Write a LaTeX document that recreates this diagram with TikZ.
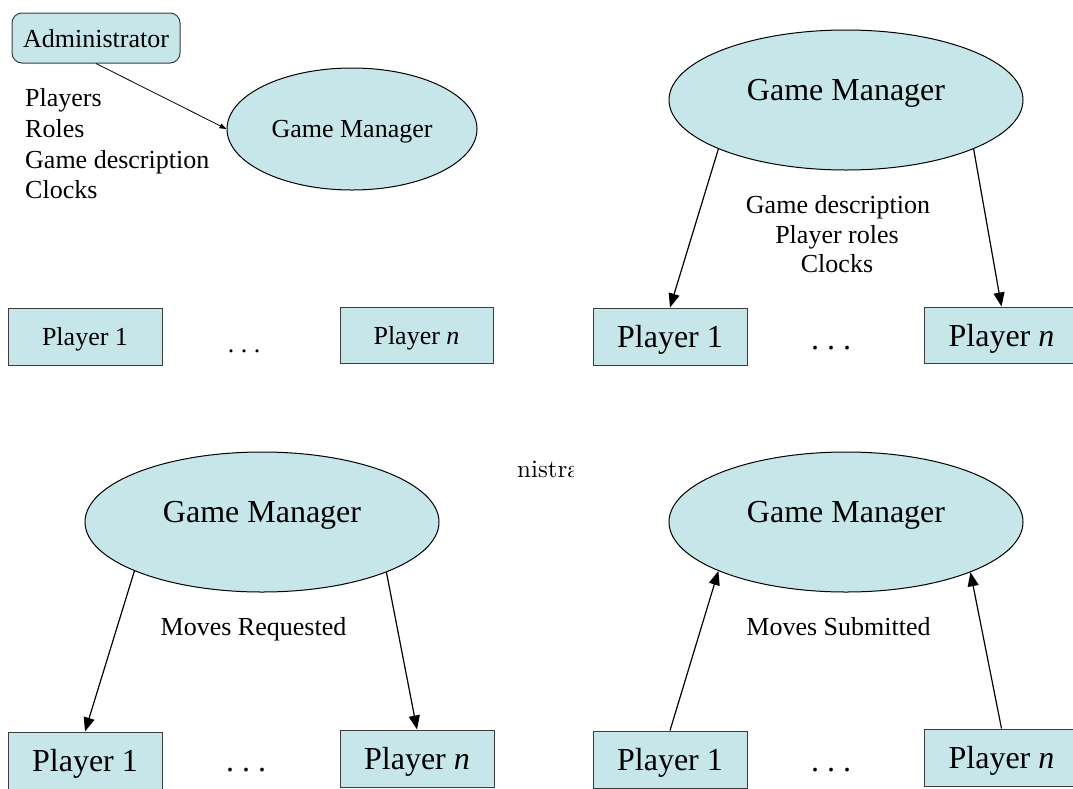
\documentclass[tikz,border=0pt]{standalone}
\usepackage{fontspec}
\setmainfont{Liberation Serif}
\newfontfamily\lmfont{lmroman10-regular}[Extension=.otf]
\usetikzlibrary{shapes.geometric,arrows.meta}
\definecolor{gmfill}{RGB}{198,230,234}
\definecolor{boxline}{RGB}{60,60,60}
\tikzset{
  gm/.style={ellipse,draw=black,fill=gmfill,line width=1pt,inner sep=0pt},
  gmbig/.style={gm,big,minimum width=354pt,minimum height=140pt,text height=22pt,text depth=22pt},
  pbox/.style={rectangle,draw=boxline,fill=gmfill,line width=1pt,inner sep=0pt,text depth=0pt,minimum width=154pt,minimum height=57pt},
  small/.style={font=\fontsize{26}{31}\selectfont},
  big/.style={font=\fontsize{32}{38}\selectfont},
  arr/.style={line width=1.2pt,-{Triangle[length=14pt,width=11pt]}},
  thinarr/.style={line width=0.8pt,-{Triangle[length=7pt,width=5pt]}},
}
\begin{document}
\begin{tikzpicture}[x=1pt,y=-1pt]
\useasboundingbox (0,0) rectangle (1073,788);
\clip (0,0) rectangle (1073,788);

% ---- panel 1 (top left)
\node[pbox,small,rounded corners=10pt,minimum width=168pt,minimum height=50pt] (adm) at (96,38) {Administrator};
\node[gm,small,minimum width=250pt,minimum height=122pt,text depth=0pt] (gmA) at (352,129) {Game Manager};
\draw[thinarr] (adm.south) -- (gmA.west);
\node[small,anchor=base west,inner sep=0pt] (lA1) at (25,106) {Players};
\node[small,anchor=base west,inner sep=0pt] (lA2) at (25,137) {Roles};
\node[small,anchor=base west,inner sep=0pt] (lA3) at (25,168) {Game description};
\node[small,anchor=base west,inner sep=0pt] (lA4) at (25,198) {Clocks};
\node[pbox,small] (pA1) at (85,336.5) {Player 1};
\node[pbox,small,minimum width=153pt,minimum height=56pt] (pAn) at (416.5,335) {Player \textit{n}};
\node[small,anchor=base,inner sep=0pt] (dA) at (244,352) {.\ .\ .};

% ---- panel 2 (top right)
\node[gmbig] (gmB) at (846,100) {Game Manager};
\node[pbox,big] (pB1) at (670,336.5) {Player 1};
\node[pbox,big,minimum height=56pt] (pBn) at (1001.5,335) {Player \textit{n}};
\node[big,anchor=base,inner sep=0pt] (dB) at (831,349) {.\ .\ .};
\node[small,anchor=base,inner sep=0pt] (lB1) at (838,213) {Game description};
\node[small,anchor=base,inner sep=0pt] (lB2) at (837,243) {Player roles};
\node[small,anchor=base,inner sep=0pt] (lB3) at (837,272) {Clocks};
\draw[arr] (gmB.201.6) -- (pB1.north);
\draw[arr] (gmB.339.1) -- (pBn.north);

% ---- stray clipped text
\begin{scope}
  \clip (500,440) rectangle (573,500);
  \node[font=\lmfont\fontsize{25}{30}\selectfont,anchor=base west,inner sep=0pt] (ghost) at (517,477) {nistra};
\end{scope}

% ---- panel 3 (bottom left)
\node[gmbig] (gmC) at (262,522) {Game Manager};
\node[pbox,big] (pC1) at (85,760.5) {Player 1};
\node[pbox,big] (pCn) at (417,758.5) {Player \textit{n}};
\node[big,anchor=base,inner sep=0pt] (dC) at (246,771) {.\ .\ .};
\node[small,anchor=base,inner sep=0pt] (lC) at (253.5,635) {Moves Requested};
\draw[arr] (gmC.201.8) -- (pC1.north);
\draw[arr] (gmC.338.2) -- (pCn.north);

% ---- panel 4 (bottom right)
\node[gmbig] (gmD) at (846,522) {Game Manager};
\node[pbox,big] (pD1) at (670,759.5) {Player 1};
\node[pbox,big] (pDn) at (1001.5,757.5) {Player \textit{n}};
\node[big,anchor=base,inner sep=0pt] (dD) at (831,771) {.\ .\ .};
\node[small,anchor=base,inner sep=0pt] (lD) at (838.5,635) {Moves Submitted};
\draw[arr] (pD1.north) -- (gmD.201.6);
\draw[arr] (pDn.north) -- (gmD.338.8);
\end{tikzpicture}
\end{document}
